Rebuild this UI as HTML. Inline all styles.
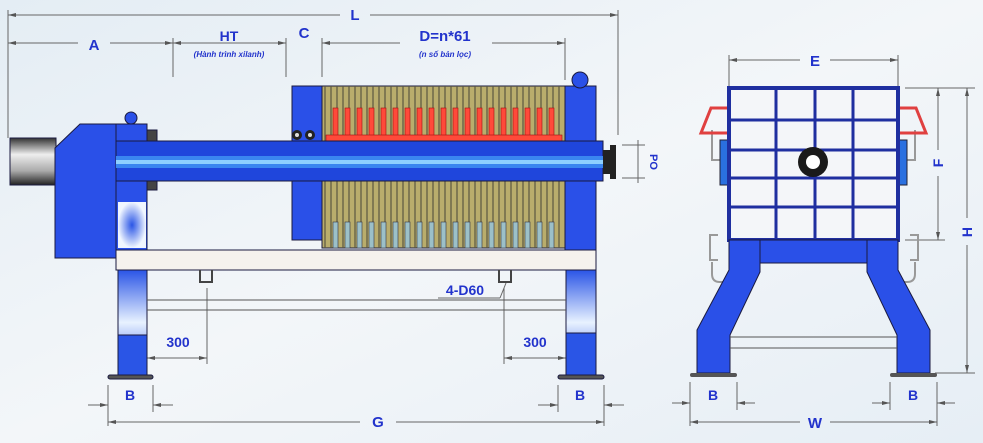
<!DOCTYPE html>
<html><head><meta charset="utf-8"><style>
html,body{margin:0;padding:0;width:983px;height:443px;overflow:hidden;background:#eef3f7}
svg{display:block}
text{font-family:"Liberation Sans",sans-serif;font-weight:bold;fill:#2233cc}
</style></head><body>
<svg width="983" height="443" viewBox="0 0 983 443" xmlns="http://www.w3.org/2000/svg">
<defs>
<linearGradient id="bg" x1="0" y1="0" x2="1" y2="1"><stop offset="0" stop-color="#e4edf4"/><stop offset="0.5" stop-color="#f3f6f9"/><stop offset="1" stop-color="#e6eef5"/></linearGradient>
<linearGradient id="cyl" x1="0" y1="0" x2="0" y2="1"><stop offset="0" stop-color="#333"/><stop offset="0.35" stop-color="#eee"/><stop offset="0.7" stop-color="#aaa"/><stop offset="1" stop-color="#222"/></linearGradient>
<linearGradient id="leg" x1="0" y1="0" x2="0" y2="1"><stop offset="0" stop-color="#2a55e6"/><stop offset="0.5" stop-color="#e8f2ff"/><stop offset="1" stop-color="#2a55e6"/></linearGradient>
<radialGradient id="lb"><stop offset="0" stop-color="#2a55e6"/><stop offset="1" stop-color="#f0f6ff"/></radialGradient>
<marker id="ar" markerWidth="8" markerHeight="6" refX="8" refY="3" orient="auto-start-reverse"><path d="M0,1 L8,3 L0,5 z" fill="#555"/></marker>
</defs>
<rect width="983" height="443" fill="url(#bg)"/>
<g stroke="#666" stroke-width="1" fill="none">
<!-- L -->
<line x1="8" y1="15" x2="340" y2="15" marker-start="url(#ar)"/>
<line x1="370" y1="15" x2="618" y2="15" marker-end="url(#ar)"/>
<line x1="8" y1="10" x2="8" y2="138"/><line x1="618" y1="10" x2="618" y2="135"/>
<!-- A HT C D -->
<line x1="8" y1="43" x2="78" y2="43" marker-start="url(#ar)"/><line x1="110" y1="43" x2="173" y2="43" marker-end="url(#ar)"/>
<line x1="173" y1="43" x2="286" y2="43" marker-start="url(#ar)" marker-end="url(#ar)"/>
<line x1="322" y1="43" x2="400" y2="43" marker-start="url(#ar)"/><line x1="492" y1="43" x2="565" y2="43" marker-end="url(#ar)"/>
<line x1="173" y1="38" x2="173" y2="77"/><line x1="286" y1="38" x2="286" y2="77"/><line x1="322" y1="38" x2="322" y2="77"/><line x1="565" y1="38" x2="565" y2="80"/>
<!-- bottom dims -->
<line x1="207" y1="288" x2="207" y2="364"/><line x1="504" y1="288" x2="504" y2="364"/>
<line x1="147" y1="358" x2="207" y2="358" marker-start="url(#ar)" marker-end="url(#ar)"/>
<line x1="504" y1="358" x2="566" y2="358" marker-start="url(#ar)" marker-end="url(#ar)"/>
<line x1="108" y1="385" x2="108" y2="426"/><line x1="153" y1="385" x2="153" y2="412"/>
<line x1="558" y1="385" x2="558" y2="412"/><line x1="604" y1="385" x2="604" y2="426"/>
<line x1="88" y1="405" x2="108" y2="405" marker-end="url(#ar)"/><line x1="173" y1="405" x2="153" y2="405" marker-end="url(#ar)"/>
<line x1="538" y1="405" x2="558" y2="405" marker-end="url(#ar)"/><line x1="624" y1="405" x2="604" y2="405" marker-end="url(#ar)"/>
<line x1="108" y1="422" x2="360" y2="422" marker-start="url(#ar)"/><line x1="396" y1="422" x2="604" y2="422" marker-end="url(#ar)"/>
<line x1="438" y1="298" x2="500" y2="298"/><line x1="500" y1="298" x2="506" y2="283"/>
<!-- PO -->
<line x1="622" y1="145" x2="645" y2="145"/><line x1="622" y1="178" x2="645" y2="178"/><line x1="638" y1="140" x2="638" y2="183"/>
</g>
<text x="355" y="20" font-size="15" text-anchor="middle">L</text>
<text x="94" y="50" font-size="15" text-anchor="middle">A</text>
<text x="229" y="41" font-size="14" text-anchor="middle">HT</text>
<text x="229" y="57" font-size="8" font-style="italic" font-weight="normal" text-anchor="middle">(Hành trình xilanh)</text>
<text x="304" y="38" font-size="15" text-anchor="middle">C</text>
<text x="445" y="41" font-size="15" text-anchor="middle">D=n*61</text>
<text x="445" y="57" font-size="8" font-style="italic" font-weight="normal" text-anchor="middle">(n số bản lọc)</text>
<text x="650" y="162" font-size="11" text-anchor="middle" transform="rotate(90 650 162)">PO</text>
<text x="178" y="347" font-size="14" text-anchor="middle">300</text>
<text x="535" y="347" font-size="14" text-anchor="middle">300</text>
<text x="465" y="295" font-size="14" text-anchor="middle">4-D60</text>
<text x="130" y="400" font-size="14" text-anchor="middle">B</text>
<text x="580" y="400" font-size="14" text-anchor="middle">B</text>
<text x="378" y="427" font-size="15" text-anchor="middle">G</text>

<!-- Left machine -->
<g stroke="#1a1a40" stroke-width="1">
<rect x="10" y="138" width="46" height="47" fill="url(#cyl)"/>
<polygon points="55,148 80,124 117,124 117,258 55,258" fill="#2a50e8"/>
<rect x="116" y="124" width="31" height="128" fill="#2a50e8"/>
<rect x="118" y="202" width="28" height="46" fill="url(#lb)" stroke="none"/>
<rect x="147" y="130" width="10" height="60" fill="#444"/>
<circle cx="131" cy="118" r="6" fill="#2a50e8"/>
<!-- rail -->
<rect x="116" y="250" width="480" height="20" fill="#f5f2ee"/>
<!-- legs -->
<rect x="118" y="270" width="29" height="105" fill="url(#leg)"/>
<rect x="118" y="335" width="29" height="40" fill="#2a55e6"/>
<rect x="566" y="270" width="30" height="105" fill="url(#leg)"/>
<rect x="566" y="333" width="30" height="42" fill="#2a55e6"/>
<rect x="108" y="375" width="45" height="4" rx="2" fill="#555"/>
<rect x="558" y="375" width="46" height="4" rx="2" fill="#555"/>
<line x1="147" y1="300" x2="566" y2="300" stroke="#555"/>
<line x1="147" y1="310" x2="566" y2="310" stroke="#555"/>
<path d="M200,270 v12 h12 v-12" fill="none" stroke="#444" stroke-width="2"/>
<path d="M499,270 v12 h12 v-12" fill="none" stroke="#444" stroke-width="2"/>
<!-- filter pack -->
<rect x="292" y="86" width="30" height="154" fill="#2a50e8"/>
<rect x="322" y="86" width="243" height="162" fill="#b9ad6c"/>
<rect x="565" y="86" width="31" height="164" fill="#2a50e8"/>
<circle cx="580" cy="80" r="8" fill="#2a50e8"/>
</g>
<g id="pl">
<!-- plate lines -->
<path d="M325 86V248M331 86V248M337 86V248M343 86V248M349 86V248M355 86V248M361 86V248M367 86V248M373 86V248M379 86V248M385 86V248M391 86V248M397 86V248M403 86V248M409 86V248M415 86V248M421 86V248M427 86V248M433 86V248M439 86V248M445 86V248M451 86V248M457 86V248M463 86V248M469 86V248M475 86V248M481 86V248M487 86V248M493 86V248M499 86V248M505 86V248M511 86V248M517 86V248M523 86V248M529 86V248M535 86V248M541 86V248M547 86V248M553 86V248M559 86V248" stroke="#5b5740" stroke-width="1.2"/>
</g>
<g fill="#ff4a3a" stroke="#a01010" stroke-width="0.6">
<rect x="333" y="108" width="5" height="28"/><rect x="345" y="108" width="5" height="28"/><rect x="357" y="108" width="5" height="28"/><rect x="369" y="108" width="5" height="28"/><rect x="381" y="108" width="5" height="28"/><rect x="393" y="108" width="5" height="28"/><rect x="405" y="108" width="5" height="28"/><rect x="417" y="108" width="5" height="28"/><rect x="429" y="108" width="5" height="28"/><rect x="441" y="108" width="5" height="28"/><rect x="453" y="108" width="5" height="28"/><rect x="465" y="108" width="5" height="28"/><rect x="477" y="108" width="5" height="28"/><rect x="489" y="108" width="5" height="28"/><rect x="501" y="108" width="5" height="28"/><rect x="513" y="108" width="5" height="28"/><rect x="525" y="108" width="5" height="28"/><rect x="537" y="108" width="5" height="28"/><rect x="549" y="108" width="5" height="28"/>
<rect x="326" y="135" width="236" height="6"/>
</g>
<g fill="#9cc0c8" stroke="#334" stroke-width="0.6">
<rect x="333" y="222" width="5" height="26"/><rect x="345" y="222" width="5" height="26"/><rect x="357" y="222" width="5" height="26"/><rect x="369" y="222" width="5" height="26"/><rect x="381" y="222" width="5" height="26"/><rect x="393" y="222" width="5" height="26"/><rect x="405" y="222" width="5" height="26"/><rect x="417" y="222" width="5" height="26"/><rect x="429" y="222" width="5" height="26"/><rect x="441" y="222" width="5" height="26"/><rect x="453" y="222" width="5" height="26"/><rect x="465" y="222" width="5" height="26"/><rect x="477" y="222" width="5" height="26"/><rect x="489" y="222" width="5" height="26"/><rect x="501" y="222" width="5" height="26"/><rect x="513" y="222" width="5" height="26"/><rect x="525" y="222" width="5" height="26"/><rect x="537" y="222" width="5" height="26"/><rect x="549" y="222" width="5" height="26"/>
</g>
<circle cx="297" cy="135" r="5" fill="#222"/><circle cx="310" cy="135" r="5" fill="#222"/>
<circle cx="297" cy="135" r="2" fill="#ddd"/><circle cx="310" cy="135" r="2" fill="#ddd"/>
<!-- beam -->
<rect x="116" y="141" width="487" height="40" fill="#1f46dc" stroke="#1a1a40"/>
<rect x="116" y="156" width="487" height="12" fill="#3a86f0"/>
<rect x="116" y="160" width="487" height="4" fill="#8ed0ff"/>
<rect x="603" y="150" width="8" height="24" fill="#222"/>
<rect x="610" y="145" width="6" height="34" fill="#222"/>

<!-- Right view -->
<g stroke="#666" stroke-width="1" fill="none">
<line x1="729" y1="55" x2="729" y2="88"/><line x1="898" y1="55" x2="898" y2="88"/>
<line x1="729" y1="60" x2="800" y2="60" marker-start="url(#ar)"/><line x1="830" y1="60" x2="898" y2="60" marker-end="url(#ar)"/>
<line x1="905" y1="88" x2="975" y2="88"/><line x1="905" y1="240" x2="945" y2="240"/><line x1="935" y1="373" x2="975" y2="373"/>
<line x1="938" y1="88" x2="938" y2="150" marker-start="url(#ar)"/><line x1="938" y1="176" x2="938" y2="240" marker-end="url(#ar)"/>
<line x1="967" y1="88" x2="967" y2="218" marker-start="url(#ar)"/><line x1="967" y1="245" x2="967" y2="373" marker-end="url(#ar)"/>
<line x1="690" y1="382" x2="690" y2="426"/><line x1="737" y1="382" x2="737" y2="410"/>
<line x1="890" y1="382" x2="890" y2="410"/><line x1="937" y1="382" x2="937" y2="426"/>
<line x1="672" y1="403" x2="690" y2="403" marker-end="url(#ar)"/><line x1="755" y1="403" x2="737" y2="403" marker-end="url(#ar)"/>
<line x1="872" y1="403" x2="890" y2="403" marker-end="url(#ar)"/><line x1="955" y1="403" x2="937" y2="403" marker-end="url(#ar)"/>
<line x1="690" y1="422" x2="800" y2="422" marker-start="url(#ar)"/><line x1="830" y1="422" x2="937" y2="422" marker-end="url(#ar)"/>
</g>
<text x="815" y="66" font-size="15" text-anchor="middle">E</text>
<text x="938" y="163" font-size="14" text-anchor="middle" transform="rotate(-90 938 163)" dy="5">F</text>
<text x="967" y="232" font-size="14" text-anchor="middle" transform="rotate(-90 967 232)" dy="5">H</text>
<text x="713" y="400" font-size="14" text-anchor="middle">B</text>
<text x="913" y="400" font-size="14" text-anchor="middle">B</text>
<text x="815" y="428" font-size="15" text-anchor="middle">W</text>
<g fill="none" stroke="#999" stroke-width="2">
<path d="M718,235 h-8 v25 h8"/><path d="M910,235 h8 v25 h-8"/>
<path d="M712,262 v12 q0,8 8,8 h6"/><path d="M915,262 v12 q0,8 -8,8 h-6"/>
<path d="M712,130 v30 h15"/><path d="M915,130 v30 h-15"/>
</g>
<g fill="none" stroke="#e04040" stroke-width="3">
<path d="M729,108 h-18 l-10,25 h28"/><path d="M898,108 h18 l10,25 h-28"/>
</g>
<rect x="720" y="140" width="8" height="45" fill="#2a70e0" stroke="#223"/>
<rect x="899" y="140" width="8" height="45" fill="#2a70e0" stroke="#223"/>
<rect x="729" y="88" width="169" height="152" fill="#f4f6f9" stroke="#1f2fa0" stroke-width="4"/>
<g stroke="#1f2fa0" stroke-width="3">
<line x1="776" y1="88" x2="776" y2="240"/><line x1="815" y1="88" x2="815" y2="240"/><line x1="853" y1="88" x2="853" y2="240"/>
<line x1="729" y1="120" x2="898" y2="120"/><line x1="729" y1="150" x2="898" y2="150"/><line x1="729" y1="178" x2="898" y2="178"/><line x1="729" y1="207" x2="898" y2="207"/>
</g>
<circle cx="813" cy="162" r="15" fill="#1a1a1a"/><circle cx="813" cy="162" r="7" fill="#fff"/>
<g fill="#2a50e8" stroke="#1a1a40" stroke-width="1">
<rect x="729" y="240" width="169" height="23"/>
<polygon points="729,240 760,240 760,272 730,335 730,373 697,373 697,330 729,270"/>
<polygon points="898,240 867,240 867,272 897,335 897,373 930,373 930,330 898,270"/>
</g>
<line x1="730" y1="337" x2="897" y2="337" stroke="#555"/><line x1="730" y1="348" x2="897" y2="348" stroke="#555"/>
<rect x="690" y="373" width="47" height="4" rx="2" fill="#555"/><rect x="890" y="373" width="47" height="4" rx="2" fill="#555"/>
</svg>
</body></html>
